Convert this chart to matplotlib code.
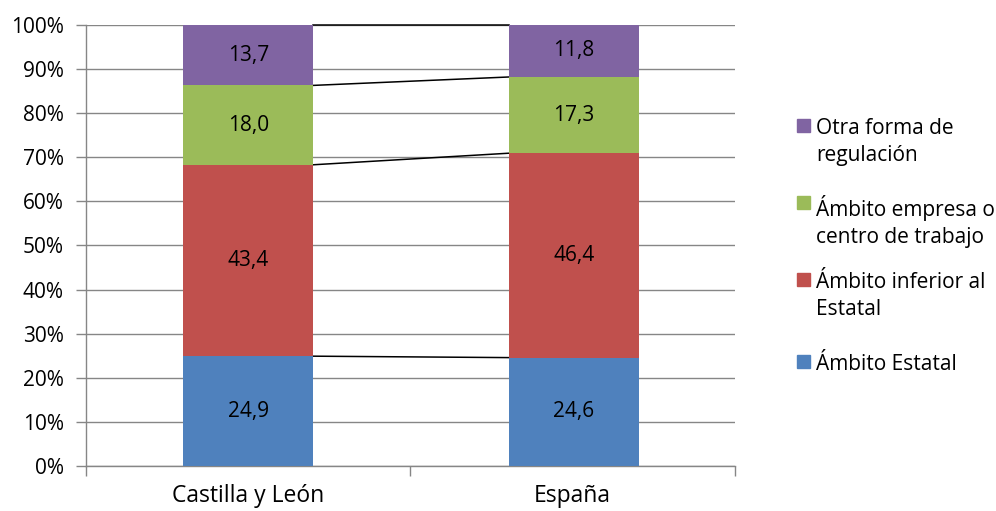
import matplotlib.pyplot as plt
from matplotlib.patches import Rectangle

plt.rcParams['font.family'] = ['Open Sans', 'DejaVu Sans']

regions = ['Castilla y León', 'España']
series_names = ['Ámbito Estatal', 'Ámbito inferior al\nEstatal',
                'Ámbito empresa o\ncentro de trabajo', 'Otra forma de\nregulación']
series_colors = ['#4F81BD', '#C0504D', '#9BBB59', '#8064A2']

estatal = [24.9, 24.6]
inferior = [43.4, 46.4]
empresa = [18.0, 17.3]
otra = [13.7, 11.8]
y_ticks = [0, 10, 20, 30, 40, 50, 60, 70, 80, 90, 100]

values = [estatal, inferior, empresa, otra]
totals = [sum(v[i] for v in values) for i in range(len(regions))]

fig = plt.figure(figsize=(9.96, 5.11), dpi=100)
ax = fig.add_axes([0.0863, 0.0881, 0.6516, 0.8630])

x = [0, 1.004]
width = 0.4
bottoms = [0.0, 0.0]
tops_per_series = []
for vals, color in zip(values, series_colors):
    pct = [v / t * 100 for v, t in zip(vals, totals)]
    ax.bar(x, pct, width=width, bottom=bottoms, color=color, zorder=3)
    for xi, b, p, v in zip(x, bottoms, pct, vals):
        ax.text(xi, b + p / 2, f'{v:.1f}'.replace('.', ','), ha='center', va='center',
                fontsize=15, color='black', zorder=4)
    bottoms = [b + p for b, p in zip(bottoms, pct)]
    tops_per_series.append(list(bottoms))

# series lines between bar edges
for tops in tops_per_series:
    ax.plot([x[0] + width / 2, x[1] - width / 2], tops, color='black', lw=1.1,
            zorder=2, clip_on=False)

ax.set_xlim(-0.5, 1.5)
ax.set_ylim(0, 100)
ax.set_yticks(y_ticks)
ax.set_yticklabels([f'{t}%' for t in y_ticks], fontsize=15)
ax.yaxis.grid(True, color='#868686', lw=1, zorder=0)
ax.set_xticks([0, 1])
ax.set_xticklabels(regions, fontsize=16.5)
ax.tick_params(axis='x', length=0, pad=13)
ax.set_xticks([-0.5, 0.5, 1.5], minor=True)
ax.tick_params(axis='x', which='minor', length=7, color='#868686', width=1)
ax.tick_params(axis='y', length=7, color='#868686', width=1, pad=9)
for side in ['top', 'right']:
    ax.spines[side].set_visible(False)
for side in ['left', 'bottom']:
    ax.spines[side].set_color('#868686')
    ax.spines[side].set_linewidth(1)

# legend drawn by hand, top entry first
legend_y = [126, 203, 280, 362]
for name, color, ly in zip(series_names[::-1], series_colors[::-1], legend_y):
    fy = 1 - ly / 511
    fig.add_artist(Rectangle((797 / 996, fy - 6.5 / 511), 13 / 996, 13 / 511,
                             color=color, transform=fig.transFigure))
    fig.text(816 / 996, fy + 8 / 511, name, ha='left', va='top', fontsize=15,
             linespacing=1.35)

fig.savefig('out.png', dpi=100)
